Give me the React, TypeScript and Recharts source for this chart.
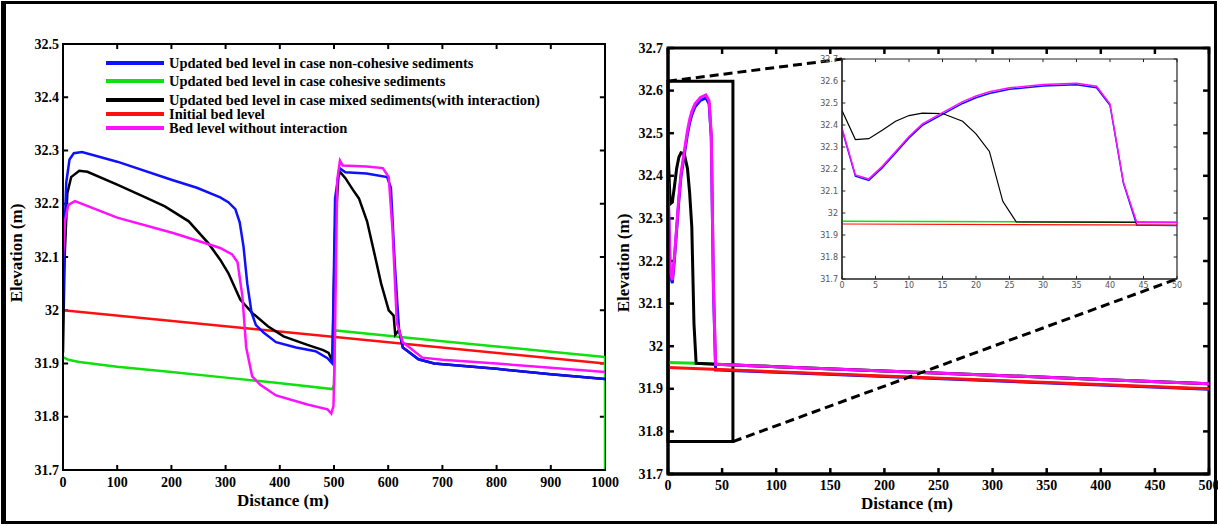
import React from 'react';
import { LineChart, Line, XAxis, YAxis, ReferenceLine, ReferenceArea, Legend, CartesianGrid, Label } from 'recharts';

// ---- left panel (0-1000 m) ----
const leftXTicks = [0, 100, 200, 300, 400, 500, 600, 700, 800, 900, 1000];
const leftYTicks = [31.7, 31.8, 31.9, 32.0, 32.1, 32.2, 32.3, 32.4, 32.5];

const leftInitial = [[0, 32.0], [1000, 31.9]];
const leftCohesive = [
  [0, 31.912], [10, 31.907], [30, 31.903], [100, 31.894], [200, 31.884], [305, 31.873], [393, 31.864],
  [497, 31.852], [500, 31.86], [502, 31.962], [600, 31.952], [700, 31.942], [800, 31.932], [900, 31.922],
  [1000, 31.912], [1000, 31.7],
];
const leftNonCohesive = [
  [0, 32.0], [3, 32.15], [6, 32.24], [12, 32.283], [20, 32.295], [35, 32.297], [100, 32.279], [200, 32.245],
  [247, 32.23], [290, 32.212], [305, 32.203], [318, 32.19], [326, 32.165], [333, 32.12], [340, 32.05],
  [348, 31.995], [356, 31.972], [370, 31.958], [393, 31.94], [430, 31.93], [466, 31.923], [488, 31.91],
  [497, 31.9], [502, 32.21], [510, 32.267], [521, 32.259], [560, 32.257], [598, 32.25], [605, 32.23],
  [612, 32.09], [620, 31.963], [627, 31.93], [656, 31.908], [685, 31.9], [800, 31.89], [900, 31.88], [1000, 31.871],
];
const leftMixed = [
  [0, 31.92], [3, 32.1], [8, 32.22], [15, 32.25], [30, 32.262], [45, 32.26], [100, 32.236], [150, 32.213],
  [188, 32.195], [232, 32.167], [268, 32.126], [290, 32.095], [305, 32.07], [327, 32.02], [349, 31.995],
  [378, 31.97], [407, 31.951], [451, 31.935], [480, 31.925], [490, 31.92], [497, 31.904], [502, 32.15],
  [508, 32.25], [511, 32.26], [521, 32.248], [535, 32.226], [546, 32.21], [561, 32.167], [576, 32.1],
  [587, 32.05], [601, 32.0], [610, 31.99], [613, 31.954], [620, 31.963], [627, 31.93], [656, 31.908],
  [685, 31.9], [800, 31.89], [900, 31.88], [1000, 31.871],
];
const leftNoInteraction = [
  [0, 32.1], [4, 32.17], [10, 32.198], [22, 32.205], [100, 32.174], [203, 32.145], [247, 32.131], [290, 32.117],
  [312, 32.105], [322, 32.09], [331, 32.026], [338, 31.93], [349, 31.876], [364, 31.86], [393, 31.84],
  [451, 31.823], [488, 31.814], [495, 31.806], [499, 31.82], [501, 31.9], [506, 32.245], [511, 32.281],
  [516, 32.272], [560, 32.27], [590, 32.267], [601, 32.25], [608, 32.15], [616, 31.976], [627, 31.94],
  [663, 31.911], [700, 31.907], [800, 31.9], [900, 31.892], [1000, 31.884],
];

// ---- right panel (0-500 m) and zoomed inset (0-50 m) ----
const rightXTicks = [0, 50, 100, 150, 200, 250, 300, 350, 400, 450, 500];
const rightYTicks = [31.7, 31.8, 31.9, 32.0, 32.1, 32.2, 32.3, 32.4, 32.5, 32.6, 32.7];
const insetXTicks = [0, 5, 10, 15, 20, 25, 30, 35, 40, 45, 50];

const rightInitial = [[0, 31.95], [500, 31.9]];
const rightCohesive = [[0, 31.962], [26, 31.96], [50, 31.957], [100, 31.952], [200, 31.942], [300, 31.932], [400, 31.922], [500, 31.912]];
const rightNonCohesive = [
  [0, 32.379], [2, 32.167], [4, 32.148], [6, 32.205], [8, 32.273], [10, 32.341], [12, 32.398], [15, 32.448],
  [18, 32.498], [20, 32.524], [22, 32.543], [25, 32.562], [30, 32.577], [35, 32.583], [38, 32.569], [40, 32.49],
  [42, 32.136], [44, 31.944], [46, 31.944], [100, 31.939], [200, 31.929], [300, 31.919], [400, 31.909], [500, 31.899],
];
const rightMixed = [
  [0, 32.466], [2, 32.334], [4, 32.338], [6, 32.376], [8, 32.417], [10, 32.443], [12, 32.454], [15, 32.452],
  [18, 32.417], [20, 32.36], [22, 32.28], [24, 32.053], [26, 31.96], [50, 31.957], [100, 31.952], [200, 31.942],
  [300, 31.932], [400, 31.922], [500, 31.912],
];
const rightNoInteraction = [
  [0, 32.386], [2, 32.173], [4, 32.155], [6, 32.212], [8, 32.28], [10, 32.348], [12, 32.405], [15, 32.456],
  [18, 32.506], [20, 32.532], [22, 32.551], [25, 32.569], [30, 32.584], [35, 32.59], [38, 32.576], [40, 32.495],
  [42, 32.14], [44, 31.957], [50, 31.957], [100, 31.952], [200, 31.942], [300, 31.932], [400, 31.922], [500, 31.912],
];

// zoom box and its connector corners, in right-panel data units
const zoomBox = { x1: 0, x2: 60, y1: 31.776, y2: 32.622 };
const insetTopLeft = { x: 160.8, y: 32.674 };
const insetBottomRight = { x: 470.4, y: 32.158 };

const legendNames = [
  'Updated bed level in case non-cohesive sediments',
  'Updated bed level in case cohesive sediments',
  'Updated bed level in case mixed sediments(with interaction)',
  'Initial bed level',
  'Bed level without interaction',
];

const BLUE = '#1010ff';
const GREEN = '#10e010';
const RED = '#ff1010';
const PINK = '#ff10ff';
const BLACK = '#000000';
const legendColors = [BLUE, GREEN, BLACK, RED, PINK];

const pts = (a: number[][]) => a.map(([x, y]) => ({ x, y }));
const fmt1 = (v: number) => String(Number(Number(v).toFixed(1)));
const serif = '"Liberation Serif", "Times New Roman", serif';
const tickFont = { fill: '#000', fontSize: 14, fontWeight: 700, fontFamily: serif };
const insetFont = { fill: '#555', fontSize: 8, fontFamily: '"DejaVu Sans", sans-serif' };

// tick label only; the tick marks themselves are drawn inward as reference segments
const tickLabel = (side: 'bottom' | 'left', gap: number, font: any, fmt?: (v: number) => string) =>
  (props: any) => {
    const { x, y, payload } = props;
    const v = payload.value as number;
    const text = fmt ? fmt(v) : String(v);
    return side === 'bottom'
      ? <text x={x} y={y + gap} textAnchor="middle" dominantBaseline="central" {...font}>{text}</text>
      : <text x={x - gap} y={y} textAnchor="end" dominantBaseline="central" {...font}>{text}</text>;
  };

// MATLAB-style boxed axes: frame plus inward ticks on all four sides
const boxAxes = (xs: number[], ys: number[], xd: number[], yd: number[], lx: number, ly: number, w: number, fw: number, color: string, key: string) => [
  <ReferenceArea key={`${key}frame`} x1={xd[0]} x2={xd[1]} y1={yd[0]} y2={yd[1]} fill="none" fillOpacity={0}
    stroke={color} strokeWidth={fw} ifOverflow="visible" />,
  ...xs.flatMap((t) => [
    <ReferenceLine key={`${key}b${t}`} segment={[{ x: t, y: yd[0] }, { x: t, y: yd[0] + ly }]} stroke={color} strokeWidth={w} ifOverflow="visible" />,
    <ReferenceLine key={`${key}t${t}`} segment={[{ x: t, y: yd[1] }, { x: t, y: yd[1] - ly }]} stroke={color} strokeWidth={w} ifOverflow="visible" />,
  ]),
  ...ys.flatMap((t) => [
    <ReferenceLine key={`${key}l${t}`} segment={[{ x: xd[0], y: t }, { x: xd[0] + lx, y: t }]} stroke={color} strokeWidth={w} ifOverflow="visible" />,
    <ReferenceLine key={`${key}r${t}`} segment={[{ x: xd[1], y: t }, { x: xd[1] - lx, y: t }]} stroke={color} strokeWidth={w} ifOverflow="visible" />,
  ]),
];

const xTitle = (dx: number, dy: number) => (props: any) => {
  const vb = props.viewBox || { x: 0, y: 0 };
  return (
    <text x={vb.x + dx} y={vb.y + dy} textAnchor="middle" dominantBaseline="central"
      fontFamily={serif} fontSize={17} fontWeight={700} fill="#000">Distance (m)</text>
  );
};
const yTitle = (dx: number, dy: number) => (props: any) => {
  const vb = props.viewBox || { x: 0, y: 0, height: 0 };
  const cx = vb.x + dx;
  const cy = vb.y + vb.height / 2 + dy;
  return (
    <text x={cx} y={cy} transform={`rotate(-90 ${cx} ${cy})`} textAnchor="middle" dominantBaseline="central"
      fontFamily={serif} fontSize={17} fontWeight={700} fill="#000">Elevation (m)</text>
  );
};

const LegendBox = () => {
  const rows = [11, 29, 48, 62, 76];
  return (
    <svg width={490} height={90}>
      {legendNames.map((name, i) => (
        <g key={name}>
          <line x1={6} x2={64} y1={rows[i]} y2={rows[i]} stroke={legendColors[i]} strokeWidth={4} />
          <text x={69} y={rows[i]} dominantBaseline="central" fontFamily={serif} fontSize={14.5} fontWeight={700} fill="#000">{name}</text>
        </g>
      ))}
    </svg>
  );
};

export default function App() {
  const ax2 = { stroke: '#000', strokeWidth: 2 };
  const ax3 = { stroke: '#000', strokeWidth: 3 };
  const ax1 = { stroke: '#222', strokeWidth: 1.2 };
  const common = { tickSize: 0, tickMargin: 0, tickLine: false, interval: 0 as const, allowDataOverflow: true, type: 'number' as const };
  return (
    <div style={{ position: 'absolute', left: 0, top: 0, width: 1218, height: 526, background: '#fff', overflow: 'hidden' }}>
      <div style={{ position: 'absolute', left: 1, top: 1, width: 1216, height: 523, border: '3px solid #000', borderLeftWidth: 5, boxSizing: 'border-box' }} />

      <div style={{ position: 'absolute', left: 0, top: 0 }}>
        <LineChart width={625} height={526} margin={{ top: 44, right: 20, bottom: 26, left: 0 }}>
          <XAxis {...common} dataKey="x" domain={[0, 1000]} ticks={leftXTicks} height={30}
            tick={tickLabel('bottom', 12, tickFont)} axisLine={ax2}>
            <Label content={xTitle(220, 30)} />
          </XAxis>
          <YAxis {...common} domain={[31.7, 32.5]} ticks={leftYTicks} width={63}
            tick={tickLabel('left', 4, tickFont, fmt1)} axisLine={ax2}>
            <Label content={yTitle(16, -4)} />
          </YAxis>
          <Legend layout="vertical" align="center" verticalAlign="middle"
            wrapperStyle={{ left: 100, top: 52, width: 490, height: 90 }} content={() => <LegendBox />} />
          {boxAxes(leftXTicks, leftYTicks, [0, 1000], [31.7, 32.5], 9.5, 0.0095, 2, 2, '#000', 'L')}
          <Line data={pts(leftInitial)} dataKey="y" stroke={RED} strokeWidth={2.5} dot={false} isAnimationActive={false} />
          <Line data={pts(leftCohesive)} dataKey="y" stroke={GREEN} strokeWidth={2.5} dot={false} isAnimationActive={false} />
          <Line data={pts(leftMixed)} dataKey="y" stroke={BLACK} strokeWidth={2.5} dot={false} isAnimationActive={false} />
          <Line data={pts(leftNonCohesive)} dataKey="y" stroke={BLUE} strokeWidth={2.5} dot={false} isAnimationActive={false} />
          <Line data={pts(leftNoInteraction)} dataKey="y" stroke={PINK} strokeWidth={2.5} dot={false} isAnimationActive={false} />
        </LineChart>
      </div>

      <div style={{ position: 'absolute', left: 610, top: 0 }}>
        <LineChart width={608} height={526} margin={{ top: 48, right: 9, bottom: 22, left: 0 }}>
          <XAxis {...common} dataKey="x" domain={[0, 500]} ticks={rightXTicks} height={30}
            tick={tickLabel('bottom', 11, tickFont)} axisLine={ax3}>
            <Label content={xTitle(239, 29)} />
          </XAxis>
          <YAxis {...common} domain={[31.7, 32.7]} ticks={rightYTicks} width={58}
            tick={tickLabel('left', 5, tickFont, fmt1)} axisLine={ax3}>
            <Label content={yTitle(13, 2)} />
          </YAxis>
          {boxAxes(rightXTicks, rightYTicks, [0, 500], [31.7, 32.7], 5.5, 0.014, 2.5, 3, '#000', 'R')}
          <Line data={pts(rightNonCohesive)} dataKey="y" stroke={BLUE} strokeWidth={3} dot={false} isAnimationActive={false} />
          <Line data={pts(rightInitial)} dataKey="y" stroke={RED} strokeWidth={3} dot={false} isAnimationActive={false} />
          <Line data={pts(rightCohesive)} dataKey="y" stroke={GREEN} strokeWidth={3} dot={false} isAnimationActive={false} />
          <Line data={pts(rightMixed)} dataKey="y" stroke={BLACK} strokeWidth={3} dot={false} isAnimationActive={false} />
          <Line data={pts(rightNoInteraction)} dataKey="y" stroke={PINK} strokeWidth={3} dot={false} isAnimationActive={false} />
          <ReferenceArea x1={zoomBox.x1} x2={zoomBox.x2} y1={zoomBox.y1} y2={zoomBox.y2}
            fill="none" fillOpacity={0} stroke="#000" strokeWidth={3} ifOverflow="visible" />
          <ReferenceLine segment={[{ x: zoomBox.x1, y: zoomBox.y2 }, insetTopLeft]}
            stroke="#000" strokeWidth={3} strokeDasharray="9 5" ifOverflow="visible" />
          <ReferenceLine segment={[{ x: zoomBox.x2, y: zoomBox.y1 }, insetBottomRight]}
            stroke="#000" strokeWidth={3} strokeDasharray="9 5" ifOverflow="visible" />
        </LineChart>
      </div>

      <div style={{ position: 'absolute', left: 810, top: 50 }}>
        <LineChart width={372} height={245} margin={{ top: 9, right: 5, bottom: 2, left: 0 }}>
          <CartesianGrid horizontal={false} vertical={false} fill="#fff" />
          <XAxis {...common} dataKey="x" domain={[0, 50]} ticks={insetXTicks} height={14}
            tick={tickLabel('bottom', 6, insetFont)} axisLine={ax1} />
          <YAxis {...common} domain={[31.7, 32.7]} ticks={rightYTicks} width={32}
            tick={tickLabel('left', 4, insetFont, fmt1)} axisLine={ax1} />
          {boxAxes(insetXTicks, rightYTicks, [0, 50], [31.7, 32.7], 0.5, 0.014, 1, 1.2, '#222', 'I')}
          <Line data={pts(rightNonCohesive)} dataKey="y" stroke={BLUE} strokeWidth={1.5} dot={false} isAnimationActive={false} />
          <Line data={pts(rightInitial)} dataKey="y" stroke={RED} strokeWidth={1.2} dot={false} isAnimationActive={false} />
          <Line data={pts(rightCohesive)} dataKey="y" stroke={GREEN} strokeWidth={1.5} dot={false} isAnimationActive={false} />
          <Line data={pts(rightMixed)} dataKey="y" stroke={BLACK} strokeWidth={1.2} dot={false} isAnimationActive={false} />
          <Line data={pts(rightNoInteraction)} dataKey="y" stroke={PINK} strokeWidth={1.5} dot={false} isAnimationActive={false} />
        </LineChart>
      </div>
    </div>
  );
}
